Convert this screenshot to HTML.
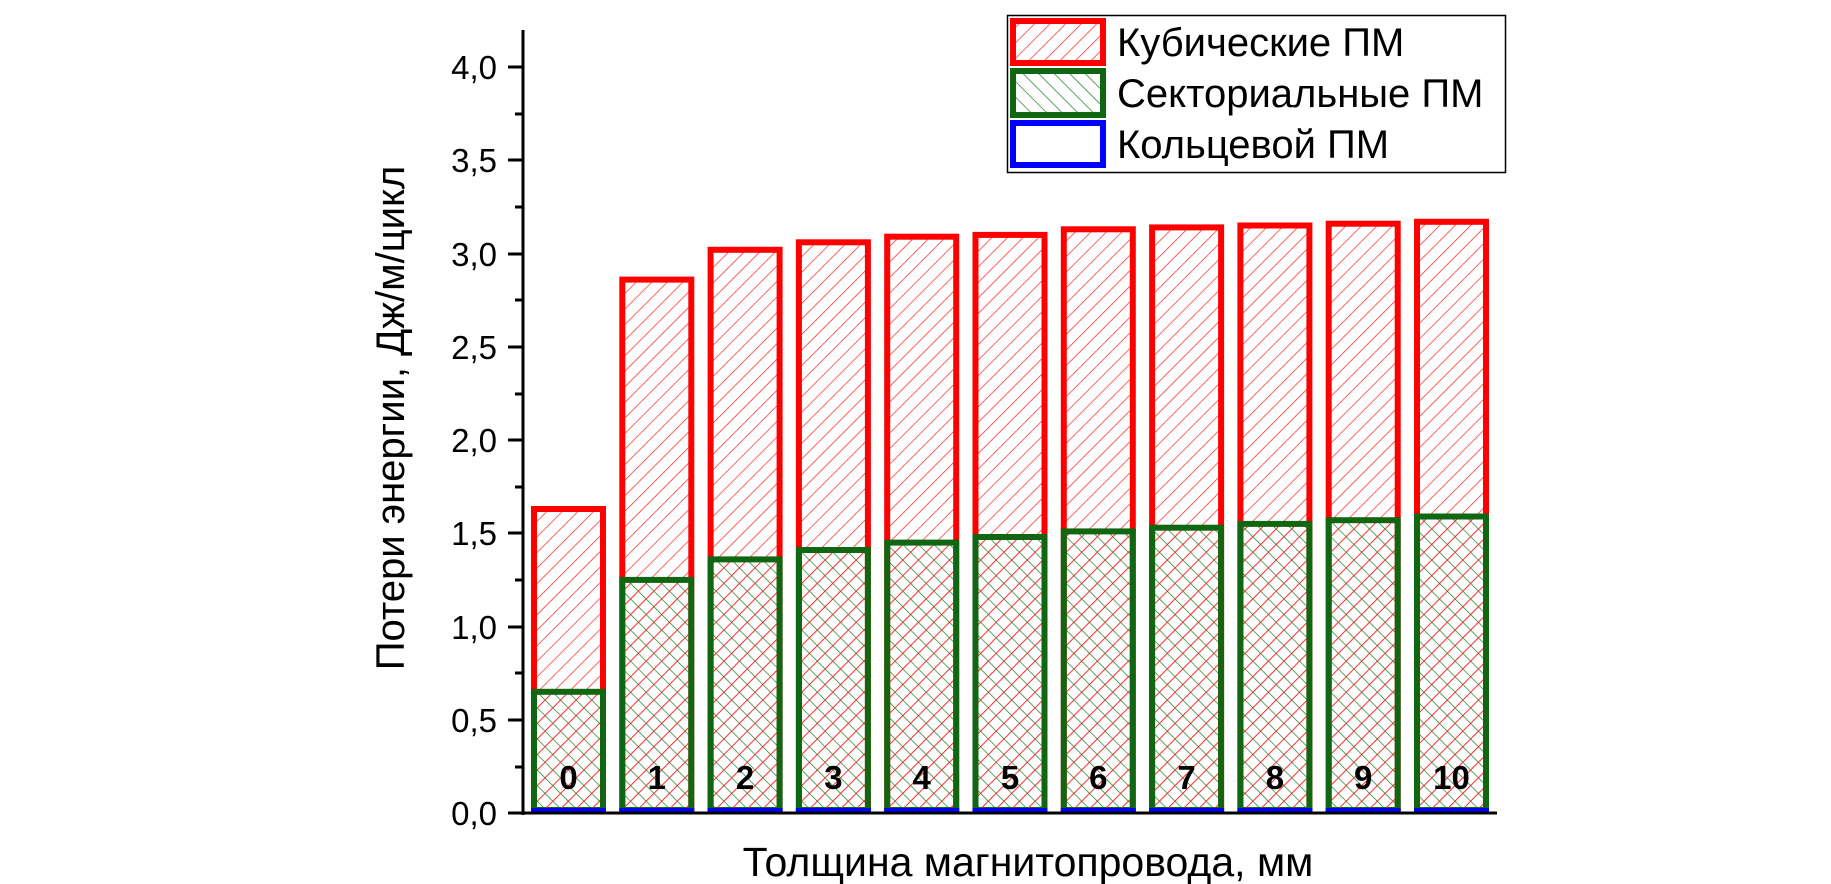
<!DOCTYPE html>
<html><head><meta charset="utf-8"><style>html,body{margin:0;padding:0;background:#fff;}svg{display:block}</style></head>
<body>
<svg width="1831" height="884" xmlns="http://www.w3.org/2000/svg" font-family="'Liberation Sans', Arial, sans-serif">
<defs>
<pattern id="pr" patternUnits="userSpaceOnUse" width="11" height="11" patternTransform="rotate(45)">
<line x1="0" y1="0" x2="0" y2="11" stroke="#ff2020" stroke-width="1.4"/>
</pattern>
<pattern id="pg" patternUnits="userSpaceOnUse" width="11" height="11" patternTransform="rotate(-45)">
<line x1="0" y1="0" x2="0" y2="11" stroke="#1f7a1f" stroke-width="1.4"/>
</pattern>
</defs>
<rect width="1831" height="884" fill="#fff"/>
<g stroke-width="6">
<rect x="534" y="509.0" width="69" height="301.0" fill="url(#pr)" stroke="#ff0000"/>
<rect x="622.3" y="279.6" width="69" height="530.4" fill="url(#pr)" stroke="#ff0000"/>
<rect x="710.6" y="249.8" width="69" height="560.2" fill="url(#pr)" stroke="#ff0000"/>
<rect x="798.9" y="242.3" width="69" height="567.7" fill="url(#pr)" stroke="#ff0000"/>
<rect x="887.2" y="236.7" width="69" height="573.3" fill="url(#pr)" stroke="#ff0000"/>
<rect x="975.5" y="234.9" width="69" height="575.1" fill="url(#pr)" stroke="#ff0000"/>
<rect x="1063.8" y="229.3" width="69" height="580.7" fill="url(#pr)" stroke="#ff0000"/>
<rect x="1152.1" y="227.4" width="69" height="582.6" fill="url(#pr)" stroke="#ff0000"/>
<rect x="1240.4" y="225.5" width="69" height="584.5" fill="url(#pr)" stroke="#ff0000"/>
<rect x="1328.7" y="223.7" width="69" height="586.3" fill="url(#pr)" stroke="#ff0000"/>
<rect x="1417" y="221.8" width="69" height="588.2" fill="url(#pr)" stroke="#ff0000"/>
</g>
<g stroke-width="6" stroke="#116611" fill="url(#pg)">
<rect x="534" y="691.8" width="69" height="118.2"/>
<rect x="622.3" y="579.9" width="69" height="230.1"/>
<rect x="710.6" y="559.4" width="69" height="250.6"/>
<rect x="798.9" y="550.0" width="69" height="260.0"/>
<rect x="887.2" y="542.6" width="69" height="267.4"/>
<rect x="975.5" y="537.0" width="69" height="273.0"/>
<rect x="1063.8" y="531.4" width="69" height="278.6"/>
<rect x="1152.1" y="527.7" width="69" height="282.3"/>
<rect x="1240.4" y="523.9" width="69" height="286.1"/>
<rect x="1328.7" y="520.2" width="69" height="289.8"/>
<rect x="1417" y="516.5" width="69" height="293.5"/>
</g>
<g fill="url(#pr)">
<rect x="537" y="694.8" width="63" height="115.2"/>
<rect x="625.3" y="582.9" width="63" height="227.1"/>
<rect x="713.6" y="562.4" width="63" height="247.6"/>
<rect x="801.9" y="553.0" width="63" height="257.0"/>
<rect x="890.2" y="545.6" width="63" height="264.4"/>
<rect x="978.5" y="540.0" width="63" height="270.0"/>
<rect x="1066.8" y="534.4" width="63" height="275.6"/>
<rect x="1155.1" y="530.7" width="63" height="279.3"/>
<rect x="1243.4" y="526.9" width="63" height="283.1"/>
<rect x="1331.7" y="523.2" width="63" height="286.8"/>
<rect x="1420" y="519.5" width="63" height="290.5"/>
</g>
<g fill="#0000ff">
<rect x="531" y="808" width="75" height="4"/><rect x="619.3" y="808" width="75" height="4"/>
<rect x="707.6" y="808" width="75" height="4"/><rect x="795.9" y="808" width="75" height="4"/>
<rect x="884.2" y="808" width="75" height="4"/><rect x="972.5" y="808" width="75" height="4"/>
<rect x="1060.8" y="808" width="75" height="4"/><rect x="1149.1" y="808" width="75" height="4"/>
<rect x="1237.4" y="808" width="75" height="4"/><rect x="1325.7" y="808" width="75" height="4"/>
<rect x="1414" y="808" width="75" height="4"/>
</g>
<g font-size="33" font-weight="bold" text-anchor="middle">
<text x="568.5" y="789">0</text><text x="656.8" y="789">1</text><text x="745.1" y="789">2</text>
<text x="833.4" y="789">3</text><text x="921.7" y="789">4</text><text x="1010" y="789">5</text>
<text x="1098.3" y="789">6</text><text x="1186.6" y="789">7</text><text x="1274.9" y="789">8</text>
<text x="1363.2" y="789">9</text><text x="1451.5" y="789">10</text>
</g>
<!-- axes -->
<line x1="523" y1="30" x2="523" y2="815" stroke="#000" stroke-width="3"/>
<line x1="521" y1="813" x2="1497" y2="813" stroke="#000" stroke-width="3"/>
<g stroke="#000" stroke-width="3">
<line x1="508" y1="67" x2="523" y2="67"/><line x1="508" y1="160" x2="523" y2="160"/>
<line x1="508" y1="254" x2="523" y2="254"/><line x1="508" y1="347" x2="523" y2="347"/>
<line x1="508" y1="440" x2="523" y2="440"/><line x1="508" y1="533" x2="523" y2="533"/>
<line x1="508" y1="627" x2="523" y2="627"/><line x1="508" y1="720" x2="523" y2="720"/>
<line x1="508" y1="813" x2="523" y2="813"/>
<line x1="515" y1="114" x2="523" y2="114"/><line x1="515" y1="207" x2="523" y2="207"/>
<line x1="515" y1="300" x2="523" y2="300"/><line x1="515" y1="394" x2="523" y2="394"/>
<line x1="515" y1="487" x2="523" y2="487"/><line x1="515" y1="580" x2="523" y2="580"/>
<line x1="515" y1="673" x2="523" y2="673"/><line x1="515" y1="767" x2="523" y2="767"/>
</g>
<g font-size="33" text-anchor="end" fill="#000">
<text x="497" y="79">4,0</text><text x="497" y="172">3,5</text><text x="497" y="266">3,0</text>
<text x="497" y="359">2,5</text><text x="497" y="452">2,0</text><text x="497" y="545">1,5</text>
<text x="497" y="639">1,0</text><text x="497" y="732">0,5</text><text x="497" y="825">0,0</text>
</g>
<text transform="translate(404,418) rotate(-90)" font-size="40" text-anchor="middle">Потери энергии, Дж/м/цикл</text>
<text x="1028" y="876" font-size="41" text-anchor="middle">Толщина магнитопровода, мм</text>
<!-- legend -->
<rect x="1007.5" y="15.5" width="498" height="157" fill="#fff" stroke="#000" stroke-width="1.5"/>
<rect x="1013" y="21" width="90" height="42" fill="url(#pr)" stroke="#ff0000" stroke-width="6"/>
<rect x="1013" y="71" width="90" height="44" fill="url(#pg)" stroke="#116611" stroke-width="6"/>
<rect x="1013" y="123" width="90" height="42" fill="#fff" stroke="#0000ff" stroke-width="6"/>
<g font-size="40"><text x="1117" y="56">Кубические ПМ</text><text x="1117" y="107">Секториальные ПМ</text><text x="1117" y="158">Кольцевой ПМ</text></g>
</svg>
</body></html>
